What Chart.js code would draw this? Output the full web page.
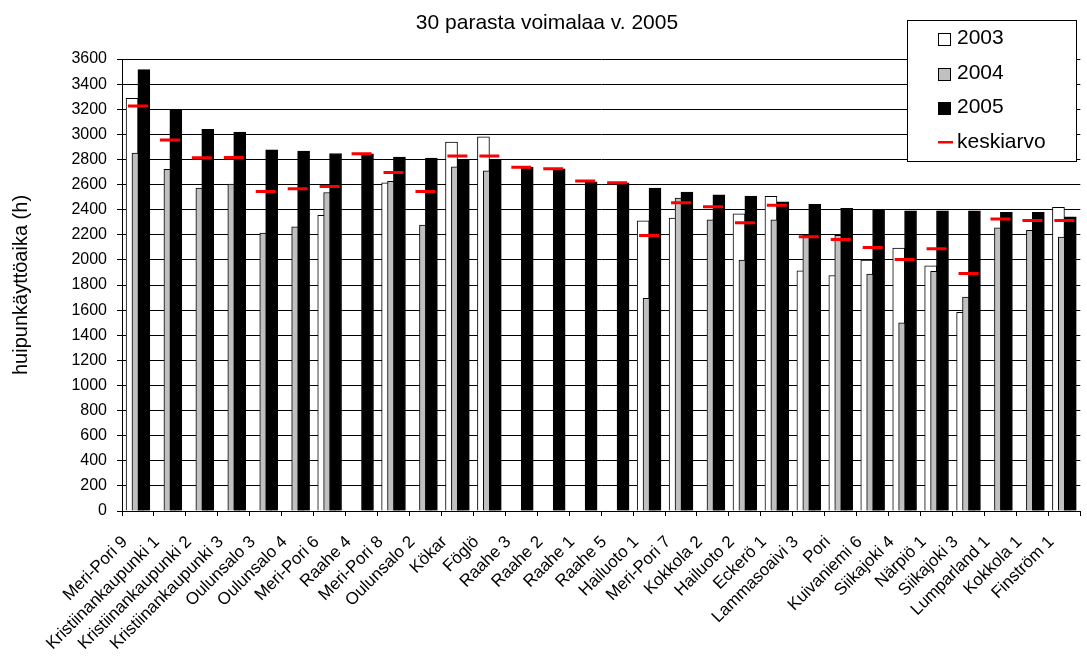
<!DOCTYPE html>
<html>
<head>
<meta charset="utf-8">
<title>30 parasta voimalaa v. 2005</title>
<script src="https://cdn.jsdelivr.net/npm/chart.js@4.4.0/dist/chart.umd.min.js"></script>
<style>
  html, body { margin: 0; padding: 0; overflow: hidden; background: #fff; }
  canvas { display: block; }
</style>
</head>
<body>
<canvas id="chart-area" width="1095" height="658"></canvas>
<script>
// voimalat, järjestetty vuoden 2005 huipunkäyttöajan mukaan
var labels = ['Meri-Pori 9', 'Kristiinankaupunki 1', 'Kristiinankaupunki 2', 'Kristiinankaupunki 3',
  'Oulunsalo 3', 'Oulunsalo 4', 'Meri-Pori 6', 'Raahe 4', 'Meri-Pori 8', 'Oulunsalo 2', 'Kökar',
  'Föglö', 'Raahe 3', 'Raahe 2', 'Raahe 1', 'Raahe 5', 'Hailuoto 1', 'Meri-Pori 7', 'Kokkola 2',
  'Hailuoto 2', 'Eckerö 1', 'Lammasoaivi 3', 'Pori', 'Kuivaniemi 6', 'Siikajoki 4', 'Närpiö 1',
  'Siikajoki 3', 'Lumparland 1', 'Kokkola 1', 'Finström 1'];

var v2003 = [3287, null, null, null, null, null, 2354, null, 2614, null, 2939, 2981, null, null, null,
  null, 2311, 2333, null, 2367, 2506, 1912, 1876, 1998, 2094, 1953, 1583, null, null, 2418];

var v2004 = [2851, 2722, 2572, 2604, 2213, 2264, 2537, null, 2625, 2277, 2742, 2710, null, null, null,
  null, 1693, 2492, 2319, 1998, 2319, 2195, 2195, 1886, 1498, 1908, 1703, 2256, 2235, 2181];

var v2005 = [3515, 3196, 3040, 3018, 2877, 2867, 2847, 2845, 2819, 2811, 2792, 2792, 2737, 2726, 2622,
  2614, 2572, 2540, 2519, 2508, 2463, 2442, 2410, 2399, 2391, 2391, 2391, 2378, 2378, 2343];

var keskiarvo = [3225, 2954, 2813, 2816, 2545, 2566, 2585, 2845, 2697, 2545, 2827, 2827, 2737, 2726, 2628,
  2615, 2195, 2455, 2423, 2295, 2436, 2184, 2163, 2099, 2004, 2088, 1892, 2325, 2314, 2314];

var yMin = 0, yMax = 3600, yStep = 200;

Chart.defaults.font.family = '"Liberation Sans", Arial, sans-serif';
Chart.defaults.color = '#000';

// bars overlap inside a category, so they sit on a hidden linear axis
function barData(values, shift) {
  var out = [];
  for (var i = 0; i < values.length; i++) {
    if (values[i] !== null) out.push({ x: i + shift, y: values[i] });
  }
  return out;
}

var legendBox = {
  id: 'legendBox',
  afterDraw: function (chart) {
    var ctx = chart.ctx;
    var left = 907, top = 20, w = 169, h = 141;
    var rows = [38, 73, 107, 142];
    ctx.save();
    ctx.fillStyle = '#fff';
    ctx.fillRect(left, top, w, h);
    ctx.strokeStyle = '#000';
    ctx.lineWidth = 1;
    ctx.strokeRect(left + 0.5, top + 0.5, w, h);
    ctx.font = '21px "Liberation Sans", Arial, sans-serif';
    ctx.textBaseline = 'middle';
    ctx.textAlign = 'left';
    chart.data.datasets.forEach(function (ds, i) {
      var y = rows[i];
      if (ds.type === 'line') {
        ctx.fillStyle = ds.pointBorderColor;
        ctx.fillRect(938, y - 1, 15, 2.5);
      } else {
        ctx.fillStyle = ds.backgroundColor;
        ctx.fillRect(938.5, y - 4.5, 12, 12);
        ctx.strokeStyle = '#000';
        ctx.strokeRect(938.5, y - 4.5, 12, 12);
      }
      ctx.fillStyle = '#000';
      ctx.fillText(ds.label, 957, y);
    });
    ctx.restore();
  }
};

var ctx = document.getElementById('chart-area');

new Chart(ctx, {
  type: 'bar',
  data: {
    labels: labels,
    datasets: [{
      label: '2003',
      data: barData(v2003, -0.185),
      xAxisID: 'xb',
      backgroundColor: '#ffffff',
      borderColor: '#000',
      borderWidth: 1,
      order: 3
    }, {
      label: '2004',
      data: barData(v2004, 0),
      xAxisID: 'xb',
      backgroundColor: '#c0c0c0',
      borderColor: '#000',
      borderWidth: 1,
      order: 2
    }, {
      label: '2005',
      data: barData(v2005, 0.185),
      xAxisID: 'xb',
      backgroundColor: '#000000',
      borderColor: '#000',
      borderWidth: 1,
      order: 1
    }, {
      type: 'line',
      label: 'keskiarvo',
      data: keskiarvo,
      xAxisID: 'x',
      showLine: false,
      pointStyle: 'line',
      pointRadius: 10,
      pointBorderWidth: 3,
      pointBorderColor: '#ff0000',
      pointBackgroundColor: '#ff0000',
      order: 0
    }]
  },
  options: {
    responsive: false,
    animation: false,
    events: [],
    layout: { padding: { left: 0, right: 1, top: 0, bottom: 0 } },
    datasets: {
      bar: { grouped: false, barThickness: 12 }
    },
    plugins: {
      legend: { display: false },
      tooltip: { enabled: false },
      title: {
        display: true,
        text: '30 parasta voimalaa v. 2005',
        color: '#000',
        font: { size: 21, weight: 'normal' },
        lineHeight: 1.2,
        padding: { top: 11, bottom: 22.8 }
      }
    },
    scales: {
      x: {
        type: 'category',
        offset: true,
        grid: { display: true, drawOnChartArea: false, drawTicks: true, tickLength: 5, color: '#000', offset: true },
        border: { color: '#000' },
        ticks: { autoSkip: false, minRotation: 45, maxRotation: 45, font: { size: 17 }, padding: 16, labelOffset: -13 },
        afterFit: function (scale) { scale.height = 147; }
      },
      xb: {
        type: 'linear',
        display: false,
        offset: false,
        min: -0.5,
        max: 29.5,
        grid: { offset: false }
      },
      y: {
        min: yMin,
        max: yMax,
        ticks: {
          stepSize: yStep,
          autoSkip: false,
          font: { size: 16 },
          padding: 10,
          callback: function (value) { return String(value); }
        },
        grid: { color: '#000', tickLength: 5 },
        border: { color: '#000' },
        title: {
          display: true,
          text: 'huipunkäyttöaika (h)',
          font: { size: 20 },
          padding: { top: 9, bottom: 0 }
        },
        afterFit: function (scale) { scale.width = 122; }
      }
    }
  },
  plugins: [legendBox]
});
</script>
</body>
</html>
